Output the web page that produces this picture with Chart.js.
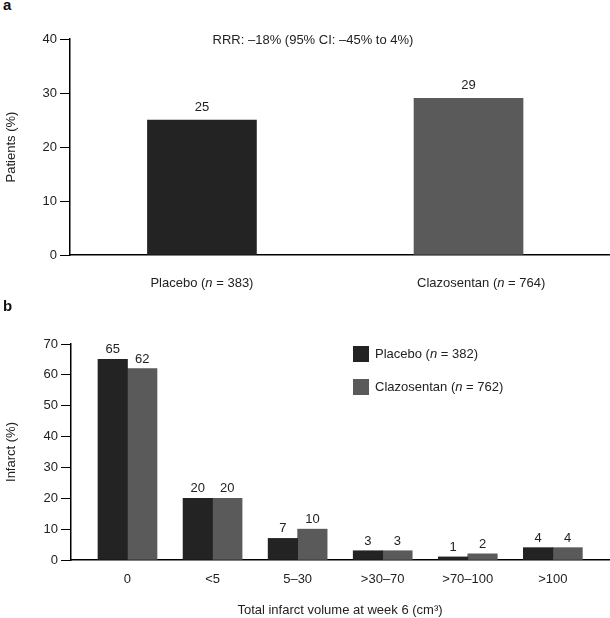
<!DOCTYPE html>
<html>
<head>
<meta charset="utf-8">
<title>Clazosentan infarct charts</title>
<script src="https://cdn.jsdelivr.net/npm/chart.js@4.4.1/dist/chart.umd.min.js"></script>
<style>
  body { margin: 0; background: #fff; }
  #wrap { position: relative; width: 610px; height: 618px; font-family: 'Liberation Sans', Arial, sans-serif; }
  .panel { position: absolute; left: 0; width: 610px; }
  .tag { position: absolute; left: 3px; font-weight: bold; font-size: 15px; color: #111; }
</style>
</head>
<body>
<div id="wrap">
  <div class="tag" style="top:-4px">a</div>
  <div class="panel" style="top:0;height:300px"><canvas id="chartA" width="610" height="300"></canvas></div>
  <div class="tag" style="top:297px">b</div>
  <div class="panel" style="top:300px;height:318px"><canvas id="chartB" width="610" height="318"></canvas></div>
</div>
<script>
// panel a data
const armNames = ["Placebo", "Clazosentan"];
const armN = [383, 764];
const patientPct = [25, 29];
const patientTicks = [0, 10, 20, 30, 40];
const rrrText = "RRR: \u201318% (95% CI: \u201345% to 4%)";

// panel b data
const volumeBins = ["0", "<5", "5\u201330", ">30\u201370", ">70\u2013100", ">100"];
const placeboInfarct = [65, 20, 7, 3, 1, 4];
const clazoInfarct = [62, 20, 10, 3, 2, 4];
const infarctN = [382, 762];
const infarctTicks = [0, 10, 20, 30, 40, 50, 60, 70];

const DARK = "#232323";
const GREY = "#5a5a5a";
const TXT = "#222";

Chart.defaults.font.family = "'Liberation Sans', Arial, Helvetica, sans-serif";
Chart.defaults.font.size = 13;
Chart.defaults.color = TXT;

// draws "Name (n = 123)" with an italic n
function drawNLabel(ctx, name, n, x, y, align) {
    let parts = [[name + " (", "normal"], ["n", "italic"], [" = " + n + ")", "normal"]];
    let total = 0;
    parts.forEach(p => {
        ctx.font = p[1] + " 13px 'Liberation Sans', Arial, sans-serif";
        total += ctx.measureText(p[0]).width;
    });
    let cx = align === "center" ? x - total / 2 : x;
    ctx.textAlign = "left";
    ctx.textBaseline = "middle";
    ctx.fillStyle = TXT;
    parts.forEach(p => {
        ctx.font = p[1] + " 13px 'Liberation Sans', Arial, sans-serif";
        ctx.fillText(p[0], cx, y);
        cx += ctx.measureText(p[0]).width;
    });
}

const valueLabels = {
    id: "valueLabels",
    afterDatasetsDraw(chart, args, opts) {
        let ctx = chart.ctx;
        ctx.save();
        ctx.font = "13px 'Liberation Sans', Arial, sans-serif";
        ctx.fillStyle = TXT;
        ctx.textAlign = "center";
        ctx.textBaseline = "alphabetic";
        chart.data.datasets.forEach((ds, di) => {
            chart.getDatasetMeta(di).data.forEach((bar, i) => {
                ctx.fillText(String(ds.data[i].y), bar.x, bar.y - opts.gap);
            });
        });
        ctx.restore();
    }
};

const armAxisLabels = {
    id: "armAxisLabels",
    afterDraw(chart) {
        let ctx = chart.ctx;
        let xs = chart.scales.x;
        let bw = chart.data.datasets[0].barThickness;
        ctx.save();
        armNames.forEach((name, i) => {
            let px = xs.getPixelForValue(i);
            drawNLabel(ctx, name, armN[i], px - bw / 2 + 3, chart.chartArea.bottom + 28, "left");
        });
        ctx.font = "13px 'Liberation Sans', Arial, sans-serif";
        ctx.textAlign = "center";
        ctx.textBaseline = "middle";
        ctx.fillStyle = TXT;
        ctx.fillText(rrrText, chart.chartArea.left + 243, chart.scales.y.getPixelForValue(40) + 1);
        ctx.restore();
    }
};

const boxLegend = {
    id: "boxLegend",
    afterDraw(chart) {
        let ctx = chart.ctx;
        let left = chart.chartArea.left + 282;
        let top = chart.chartArea.top + 2;
        ctx.save();
        chart.data.datasets.forEach((ds, i) => {
            let y = top + i * 33;
            ctx.fillStyle = ds.backgroundColor;
            ctx.fillRect(left, y, 16, 16);
            drawNLabel(ctx, ds.label, infarctN[i], left + 22, y + 8, "left");
        });
        ctx.restore();
    }
};

function yAxis(max, ticks, title, width) {
    return {
        type: "linear",
        min: 0,
        max: max,
        afterBuildTicks: s => { s.ticks = ticks.map(v => ({ value: v })); },
        afterFit: s => { s.width = width; },
        ticks: { padding: 3, color: TXT },
        grid: { drawOnChartArea: false, drawTicks: true, tickLength: 10, color: "#000", lineWidth: 1 },
        border: { color: "#000", width: 1.5 },
        title: { display: true, text: title, color: TXT, padding: { top: 4, bottom: 0 } }
    };
}

function xAxis(min, max, cats, height) {
    return {
        type: "linear",
        min: min,
        max: max,
        offset: false,
        bounds: "data",
        afterBuildTicks: s => { s.ticks = cats.map((_, i) => ({ value: i })); },
        afterFit: s => { s.height = height; },
        ticks: { padding: 12, color: TXT, callback: v => cats[v] },
        grid: { display: false, drawTicks: false, offset: false },
        border: { color: "#000", width: 1.5 }
    };
}

let xa = xAxis(-0.495, 1.527, armNames, 45);
xa.ticks.display = false;

new Chart("chartA", {
    type: "bar",
    data: {
        datasets: [{
            data: patientPct.map((v, i) => ({ x: i, y: v })),
            backgroundColor: [DARK, GREY],
            barThickness: 109
        }]
    },
    options: {
        responsive: false,
        animation: false,
        layout: { padding: { top: 39, right: 1, left: 0, bottom: 0 } },
        scales: {
            x: xa,
            y: yAxis(40, patientTicks, "Patients (%)", 70)
        },
        plugins: {
            legend: { display: false },
            tooltip: { enabled: false },
            valueLabels: { gap: 9 }
        }
    },
    plugins: [valueLabels, armAxisLabels]
});

let xb = xAxis(-0.664, 5.66, volumeBins, 58);
xb.title = { display: true, text: "Total infarct volume at week 6 (cm\u00b3)", color: TXT, padding: { top: 0, bottom: 0 } };

new Chart("chartB", {
    type: "bar",
    data: {
        datasets: [{
            label: "Placebo",
            data: placeboInfarct.map((v, i) => ({ x: i, y: v })),
            backgroundColor: DARK,
            barThickness: 29.5
        }, {
            label: "Clazosentan",
            data: clazoInfarct.map((v, i) => ({ x: i, y: v })),
            backgroundColor: GREY,
            barThickness: 29.5
        }]
    },
    options: {
        responsive: false,
        animation: false,
        layout: { padding: { top: 44, right: 1, left: 0, bottom: 0 } },
        scales: {
            x: xb,
            y: yAxis(70, infarctTicks, "Infarct (%)", 71)
        },
        plugins: {
            legend: { display: false },
            tooltip: { enabled: false },
            valueLabels: { gap: 6 }
        }
    },
    plugins: [valueLabels, boxLegend]
});
</script>
</body>
</html>
